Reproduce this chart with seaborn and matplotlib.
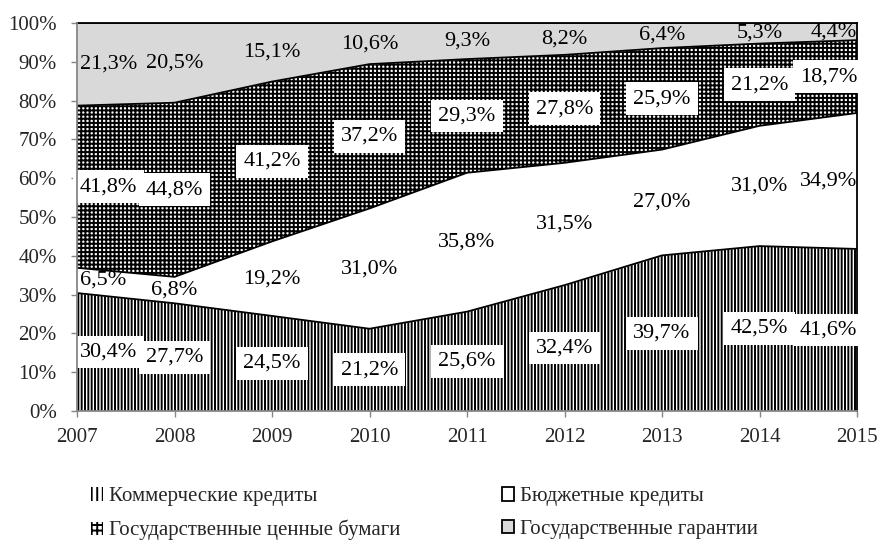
import numpy as np
import pandas as pd
import matplotlib
matplotlib.use('Agg')
import matplotlib.pyplot as plt
from matplotlib.patches import Patch
import seaborn as sns

# data (shares, %)
years = [2007, 2008, 2009, 2010, 2011, 2012, 2013, 2014, 2015]
series_names = ['Коммерческие кредиты', 'Бюджетные кредиты',
                'Государственные ценные бумаги', 'Государственные гарантии']
commercial = [30.4, 27.7, 24.5, 21.2, 25.6, 32.4, 39.7, 42.5, 41.6]
budget = [6.5, 6.8, 19.2, 31.0, 35.8, 31.5, 27.0, 31.0, 34.9]
securities = [41.8, 44.8, 41.2, 37.2, 29.3, 27.8, 25.9, 21.2, 18.7]
guarantees = [21.3, 20.5, 15.1, 10.6, 9.3, 8.2, 6.4, 5.3, 4.4]
y_ticks = [0, 10, 20, 30, 40, 50, 60, 70, 80, 90, 100]

sns.set_theme(style='white')
plt.rcParams['font.family'] = ['Liberation Serif', 'DejaVu Serif']
plt.rcParams['hatch.linewidth'] = 1.4

vals = np.array([commercial, budget, securities, guarantees])
shares = vals / vals.sum(axis=0) * 100  # 100% stacked, like Excel
tops = np.cumsum(shares, axis=0)
bottoms = tops - shares

fig = plt.figure(figsize=(8.79, 5.45), dpi=100)
ax = fig.add_axes([0.0876, 0.2459, 0.8874, 0.7119])

# fills
styles = [dict(facecolor='white', edgecolor='black', hatch='|||||'),
          dict(facecolor='white', edgecolor='white', hatch=None),
          dict(facecolor='white', edgecolor='black', hatch='++++'),
          dict(facecolor='#d9d9d9', edgecolor='#d9d9d9', hatch=None)]
for i in range(4):
    ax.fill_between(years, bottoms[i], tops[i], linewidth=0, **styles[i])

# series borders
lines = pd.DataFrame({'year': np.tile(years, 4),
                      'top': tops.ravel(),
                      'series': np.repeat(series_names, len(years))})
sns.lineplot(data=lines, x='year', y='top', units='series', estimator=None,
             color='black', linewidth=1.3, ax=ax, legend=False)

# data labels
for i in range(4):
    for j, yr in enumerate(years):
        txt = ('%.1f%%' % vals[i, j]).replace('.', ',')
        ypos = bottoms[i, j] + shares[i, j] / 2
        if j == 0:
            ha, dx = 'left', 2
        elif j == len(years) - 1:
            ha, dx = 'right', 0
        else:
            ha, dx = 'center', 0
        bbox = None
        if i in (0, 2):
            bbox = dict(facecolor='white', edgecolor='none', pad=5)
        ax.annotate(txt, (yr, ypos), xytext=(dx, 0), textcoords='offset points',
                    ha=ha, va='center', fontsize=16, color='black', bbox=bbox)

ax.set_xlim(2007, 2015)
ax.set_ylim(0, 100)
ax.set_xticks(years)
ax.set_xticklabels([str(y) for y in years], fontsize=15)
ax.set_yticks(y_ticks)
ax.set_yticklabels(['%d%%' % t for t in y_ticks], fontsize=15)
ax.set_xlabel('')
ax.set_ylabel('')
ax.tick_params(axis='both', which='both', direction='out', length=4.5, width=1,
               color='#868686', bottom=True, left=True)
ax.tick_params(axis='x', pad=8)
ax.tick_params(axis='y', pad=10)
for s in ['left', 'bottom']:
    ax.spines[s].set_color('#868686')
    ax.spines[s].set_linewidth(1.3)
for s in ['right', 'top']:
    ax.spines[s].set_color('black')
    ax.spines[s].set_linewidth(1.3)
ax.spines['left'].set_zorder(5)

handles = [Patch(facecolor='white', edgecolor='black', hatch='|||', linewidth=0),
           Patch(facecolor='white', edgecolor='black', hatch='+++', linewidth=0),
           Patch(facecolor='white', edgecolor='black', linewidth=1.3),
           Patch(facecolor='#d9d9d9', edgecolor='black', linewidth=1.3)]
labels = [series_names[0], series_names[2], series_names[1], series_names[3]]
fig.legend(handles, labels, ncol=2, loc='upper left', bbox_to_anchor=(0.082, 0.140),
           frameon=False, fontsize=15, handlelength=0.6, handleheight=0.6,
           handletextpad=0.25, columnspacing=4.9, labelspacing=0.65)

fig.savefig('out.png', dpi=100)
